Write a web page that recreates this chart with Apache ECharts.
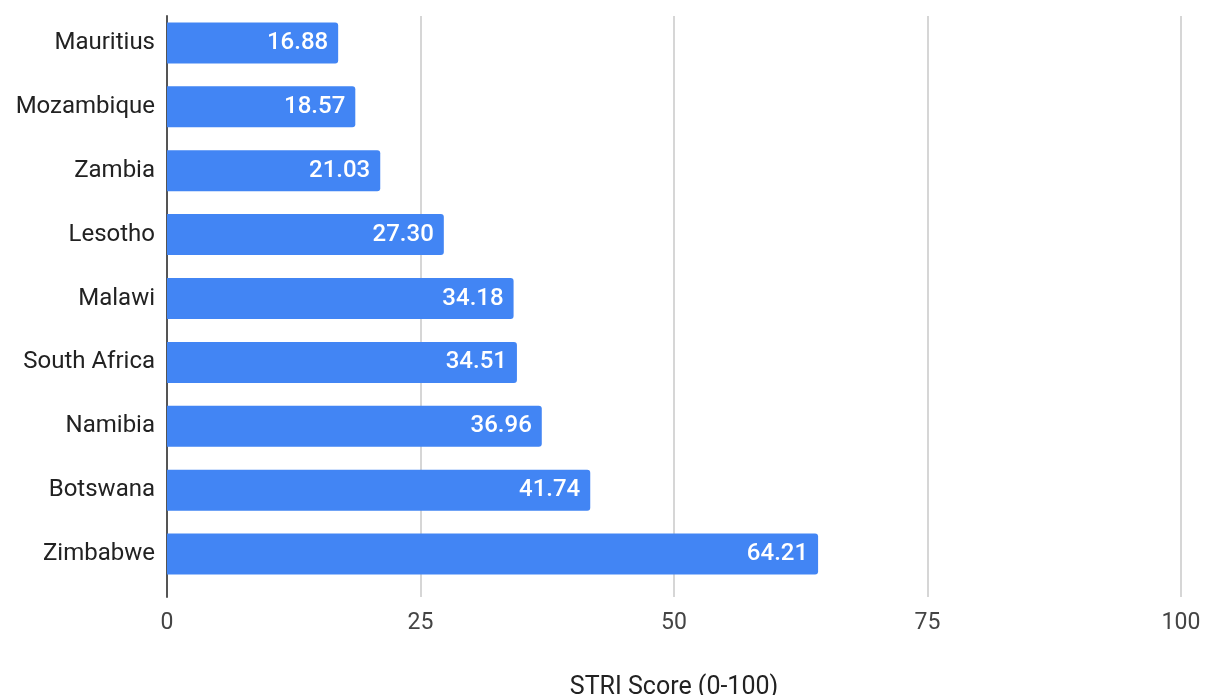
<!DOCTYPE html>
<html><head><meta charset="utf-8">
<script src="https://cdn.jsdelivr.net/npm/echarts@6/dist/echarts.min.js"></script>
<style>html,body{margin:0;padding:0;background:#fff}#c{width:1206px;height:695px}</style>
</head><body><div id="c"></div>
<script>
const categories = ["Mauritius","Mozambique","Zambia","Lesotho","Malawi","South Africa","Namibia","Botswana","Zimbabwe"];
const values = [16.88,18.57,21.03,27.30,34.18,34.51,36.96,41.74,64.21];
const xTicks = [0,25,50,75,100];
const axisTitle = "STRI Score (0-100)";

const chart = echarts.init(document.getElementById('c'));
chart.setOption({
  animation:false,
  textStyle:{fontFamily:'Roboto'},
  grid:[
    {left:167,right:25,top:11,bottom:109,outerBoundsMode:'none',containLabel:false},
    {left:167,right:25,top:16,bottom:98,outerBoundsMode:'none',containLabel:false}
  ],
  xAxis:[
    {gridIndex:0,type:'value',min:0,max:100,interval:25,
     axisLine:{show:false},axisTick:{show:false},axisLabel:{show:false},splitLine:{show:false}},
    {gridIndex:1,type:'value',min:xTicks[0],max:xTicks[xTicks.length-1],interval:25,
     axisLine:{show:false},axisTick:{show:false},
     axisLabel:{color:'#444',fontSize:23,margin:15,fontFamily:'Roboto'},
     splitLine:{show:true,lineStyle:{color:'#d6d6d6',width:2}},
     name:axisTitle,nameLocation:'middle',nameGap:78,
     nameTextStyle:{color:'#222',fontSize:25,fontFamily:'Roboto'}}
  ],
  yAxis:[
    {gridIndex:0,type:'category',data:categories,inverse:true,
     axisLine:{show:false},axisTick:{show:false},
     axisLabel:{color:'#222',fontSize:24,margin:12,fontFamily:'Roboto',padding:[3,0,0,0]}},
    {gridIndex:1,type:'category',data:categories,inverse:true,
     axisLine:{show:true,lineStyle:{color:'#555',width:2}},axisTick:{show:false},axisLabel:{show:false}}
  ],
  series:[{
    type:'bar',xAxisIndex:0,yAxisIndex:0,data:values,barWidth:41,z:3,
    itemStyle:{color:'#4285F4',borderRadius:[0,3,3,0]},
    label:{show:true,position:'insideRight',color:'#fff',fontSize:24,fontWeight:500,distance:10,
      fontFamily:'Roboto',formatter:p=>p.value.toFixed(2)}
  }]
});
</script></body></html>
